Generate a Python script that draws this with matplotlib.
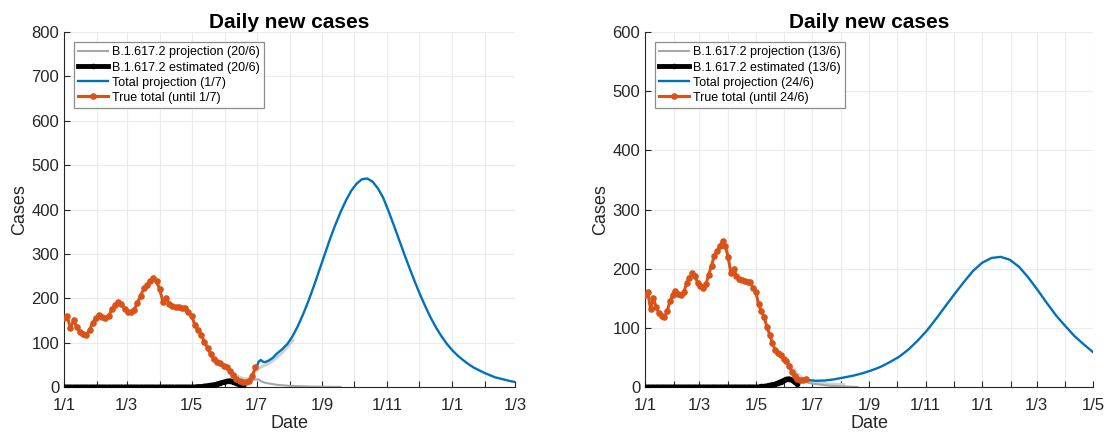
import numpy as np
import pandas as pd
import matplotlib
matplotlib.use("Agg")
import matplotlib.pyplot as plt
import matplotlib.dates as mdates
from matplotlib.ticker import FuncFormatter, MultipleLocator

plt.rcParams['font.family'] = ['Liberation Sans', 'DejaVu Sans']

START = pd.Timestamp('2021-01-01')

# reported daily totals, every 3rd day from 1/1
true_total = [155, 160, 132, 150, 135, 125, 120, 118, 128, 145,
              155, 163, 158, 155, 160, 175, 185, 192, 188, 176,
              170, 168, 174, 190, 205, 222, 230, 238, 246, 238,
              220, 192, 200, 188, 182, 181, 180, 178, 177, 168,
              160, 140, 128, 118, 102, 88, 74, 62, 57, 54,
              48, 44, 35, 26, 18, 14, 12, 11, 14, 25, 45]

# estimated B.1.617.2 cases, every 3rd day from 1/1
delta_est = [0, 0, 0, 0, 0, 0, 0, 0, 0, 0,
             0, 0, 0, 0, 0, 0, 0, 0, 0, 0,
             0, 0, 0, 0, 0, 0, 0, 0, 0, 0,
             0, 0, 0, 0, 0, 0, 0, 0, 0, 0,
             0, 0, 1, 1, 2, 3, 4, 5, 7, 9,
             11, 13, 14, 12, 8, 5, 3]

# left panel: projections (day offsets from 1/1/2021)
L_proj_days = [181, 183, 185, 187, 189, 192, 196, 200, 205, 210, 212, 215, 220,
               225, 230, 235, 240, 245, 250, 255, 260, 265, 270, 275, 280, 285,
               290, 295, 300, 305, 310, 315, 320, 325, 330, 335, 340, 345, 350,
               355, 360, 365, 370, 375, 380, 385, 390, 395, 400, 405, 410, 415,
               420, 425]
L_proj_vals = [44, 57, 61, 57, 56, 59, 65, 75, 85, 97, 104, 115, 138,
               165, 195, 228, 263, 298, 333, 365, 394, 420, 442, 458, 468, 470,
               463, 448, 427, 397, 365, 332, 299, 267, 236, 207, 180, 155, 133,
               114, 97, 83, 71, 61, 52, 44, 38, 32, 27, 22, 19, 16,
               13, 11]
L_delta_days = [150, 160, 165, 170, 175, 180, 183, 186, 190, 195, 200, 210, 220, 230, 245, 260]
L_delta_vals = [11, 12, 10, 10, 14, 17, 17, 12, 9, 7, 5, 3, 2, 1, 0.5, 0]
L_fit_days = [140, 145, 150, 155, 160, 165, 170, 175, 180, 185, 190, 195, 200, 205, 210, 215]
L_fit_vals = [60, 52, 47, 40, 30, 22, 18, 20, 36, 45, 50, 57, 66, 77, 90, 105]

# right panel: projections
R_proj_days = [175, 185, 195, 205, 215, 225, 235, 245, 255, 265, 275, 285,
               295, 305, 315, 325, 335, 345, 355, 365, 375, 385, 395, 405,
               415, 425, 435, 445, 455, 465, 475, 485]
R_proj_vals = [12, 10.5, 11, 13, 16, 19, 23, 28, 34, 42, 51, 63,
               78, 95, 115, 136, 157, 177, 196, 210, 218, 220, 215, 203,
               185, 164, 142, 121, 103, 86, 72, 59]
R_delta_days = [160, 165, 170, 175, 180, 190, 200, 215, 230]
R_delta_vals = [10, 10, 9, 8, 6, 4, 2, 1, 0]
R_fit_days = [140, 145, 150, 155, 160, 165, 170, 175, 180, 190, 200, 215]
R_fit_vals = [62, 54, 48, 42, 32, 22, 15, 10, 8, 6, 5, 4]

BLUE = '#0072BD'
ORANGE = '#D95319'


def to_dates(days):
    return START + pd.to_timedelta(np.asarray(days), unit='D')


def every3(vals):
    return pd.date_range(START, periods=len(vals), freq='3D')


def month_label(x, pos):
    d = mdates.num2date(x)
    if d.month % 2 == 1:
        return f"{d.day}/{d.month}"
    return ''


def draw(ax, est_n, true_n, fit, delta, proj, tags, xend, ymax):
    ax.plot(to_dates(fit[0]), fit[1], color='0.82', lw=2.2, zorder=1)
    ax.plot(to_dates(delta[0]), delta[1], color='0.65', lw=1.5, zorder=2,
            label=f'B.1.617.2 projection ({tags[0]})')
    est = delta_est[:est_n]
    ax.plot(every3(est), est, color='black', lw=3.5, marker='.', ms=6, zorder=3,
            label=f'B.1.617.2 estimated ({tags[0]})')
    ax.plot(to_dates(proj[0]), proj[1], color=BLUE, lw=1.7, zorder=4,
            label=f'Total projection ({tags[1]})')
    tt = true_total[:true_n]
    ax.plot(every3(tt), tt, color=ORANGE, lw=2.2, marker='.', ms=7.5, zorder=5,
            label=f'True total (until {tags[1]})')

    ax.set_xlim(START, pd.Timestamp(xend))
    ax.set_ylim(0, ymax)
    ax.xaxis.set_major_locator(mdates.MonthLocator())
    ax.xaxis.set_major_formatter(FuncFormatter(month_label))
    ax.yaxis.set_major_locator(MultipleLocator(100))
    ax.tick_params(direction='in', length=4, width=0.8, labelsize=12,
                   colors='0.15')
    ax.tick_params(axis='y', pad=3.5)
    ax.tick_params(axis='x', pad=8)
    ax.grid(True, color='0.92', lw=0.8)
    ax.set_axisbelow(True)
    for s in ('top', 'right'):
        ax.spines[s].set_visible(False)
    for s in ('left', 'bottom'):
        ax.spines[s].set_color('0.15')
        ax.spines[s].set_linewidth(0.8)
    ax.set_title('Daily new cases', fontsize=15, fontweight='bold', pad=3)
    ax.set_xlabel('Date', fontsize=13, color='0.15', labelpad=1)
    ax.set_ylabel('Cases', fontsize=13, color='0.15', labelpad=2)
    leg = ax.legend(loc='upper left', fontsize=9, numpoints=1, handlelength=2.4,
                    handletextpad=0.3, labelspacing=0.25, borderaxespad=0.8,
                    borderpad=0.35, fancybox=False, framealpha=1,
                    edgecolor='0.55')
    leg.get_frame().set_linewidth(0.9)


fig = plt.figure(figsize=(11.1, 4.34), dpi=100)
ax1 = fig.add_axes([64 / 1110, 47 / 434, 451 / 1110, 355 / 434])
ax2 = fig.add_axes([645 / 1110, 47 / 434, 448 / 1110, 355 / 434])

draw(ax1, 57, 61, (L_fit_days, L_fit_vals), (L_delta_days, L_delta_vals),
     (L_proj_days, L_proj_vals), ('20/6', '1/7'), '2022-03-01', 800)
draw(ax2, 56, 59, (R_fit_days, R_fit_vals), (R_delta_days, R_delta_vals),
     (R_proj_days, R_proj_vals), ('13/6', '24/6'), '2022-05-01', 600)

fig.savefig('out.png', dpi=100)
